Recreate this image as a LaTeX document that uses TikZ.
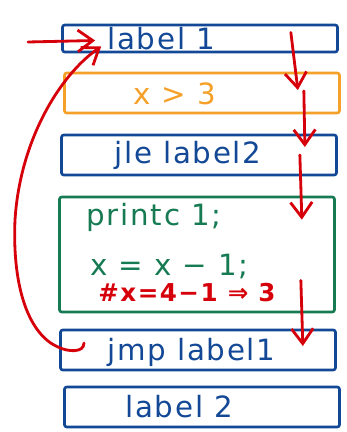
\documentclass[tikz,border=0pt]{standalone}
\usepackage{fontspec}
\setmainfont{DejaVu Sans}[LetterSpace=6]
\usepackage{tikz}
\usetikzlibrary{arrows.meta,positioning,calc}
\definecolor{InkBlue}{RGB}{18,72,150}
\definecolor{InkOrange}{RGB}{245,160,40}
\definecolor{InkGreen}{RGB}{22,122,82}
\definecolor{InkRed}{RGB}{214,0,10}

\begin{document}
\begin{tikzpicture}[x=0.03cm,y=-0.03cm,
  instr/.style={draw=#1,line width=2.3pt,rounded corners=2pt,minimum width=8.25cm,
                minimum height=1.2cm,inner sep=0pt},
  code/.style={anchor=west,font=\fontsize{25}{29}\selectfont,inner sep=0pt},
  flow/.style={draw=InkRed,line width=2.4pt,line cap=round,
               -{Straight Barb[length=4.5mm,width=6.5mm,line width=2.4pt]}},
]
\useasboundingbox (0,0) rectangle (347,432);
% instruction boxes
\node[instr=InkBlue,minimum height=0.81cm] (lblone) at (200,38.5) {};
\node[code,text=InkBlue] (lblonetxt) at ($(lblone.west)+(46,0)$) {label 1};
\node[instr=InkOrange] (cond) at (202,93) {};
\node[code,text=InkOrange] (condtxt) at ($(cond.west)+(70,1)$) {x > 3};
\node[instr=InkBlue] (jle) at (199,155) {};
\node[code,text=InkBlue] (jletxt) at ($(jle.west)+(54,0)$) {jle label2};
\node[instr=InkGreen,minimum height=3.45cm] (body) at (197,254.5) {};
\node[code,text=InkGreen] (print) at ($(body.north west)+(28,22)$) {printc 1;};
\node[code,text=InkGreen] (decr) at ($(body.north west)+(32,71)$) {x = x − 1;};
\node[code,text=InkRed,font=\fontsize{21}{25}\selectfont\bfseries] (note)
  at ($(body.north west)+(40,97)$) {\#x=4−1 ⇒ 3};
\node[instr=InkBlue] (jmp) at (198,350) {};
\node[code,text=InkBlue] (jmptxt) at ($(jmp.west)+(48,2)$) {jmp label1};
\node[instr=InkBlue] (lbltwo) at (202,407) {};
\node[code,text=InkBlue] (lbltwotxt) at ($(lbltwo.west)+(62,0)$) {label 2};
% control flow
\coordinate (entry) at (28,42);
\coordinate (hook) at (84,343);
\draw[flow] (entry) -- ($(lblonetxt.west)+(-12,2)$);
\draw[flow] (hook) .. controls (84,353) and (68,352) .. (58,347)
  .. controls (30,335) and (12,290) .. (15,220)
  .. controls (20,140) and (60,75) .. ($(lblonetxt.west)+(-6,8)$);
\draw[flow] ($(lblone.east)+(-48,-6)$) -- ($(cond.east)+(-43,-3)$);
\draw[flow] ($(cond.east)+(-37,-2)$) -- ($(jle.east)+(-33,-8)$);
\draw[flow] ($(jle.east)+(-38,0)$) -- ($(body.north east)+(-34,24)$);
\draw[flow] ($(body.east)+(-35,26)$) -- ($(jmp.east)+(-34,-4)$);
\end{tikzpicture}
\end{document}
